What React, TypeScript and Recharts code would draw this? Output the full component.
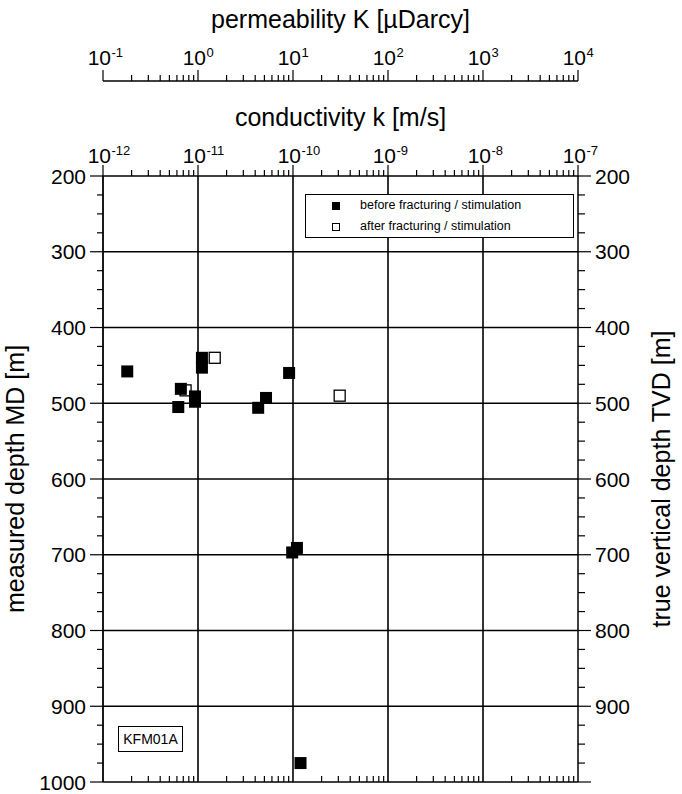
import React from 'react';
import { ScatterChart, Scatter, XAxis, YAxis, ReferenceLine, Legend, Label } from 'recharts';

const FONT = '"Liberation Sans", Arial, Helvetica, sans-serif';

// conductivity k [m/s] and measured depth [m]
const beforeK = [1.8e-12, 1.1e-11, 1.1e-11, 6.6e-12, 6.2e-12, 9.3e-12, 9.3e-12, 4.3e-11, 5.2e-11, 9.1e-11, 9.8e-11, 1.1e-10, 1.2e-10];
const beforeDepth = [458, 440, 453, 481, 505, 491, 498, 506, 493, 460, 697, 691, 975];
const afterK = [1.5e-11, 7.4e-12, 3.1e-10];
const afterDepth = [440, 483, 490];

const kDecades = [1e-12, 1e-11, 1e-10, 1e-9, 1e-8, 1e-7];
const kExponents = ['-12', '-11', '-10', '-9', '-8', '-7'];
const permDecades = [0.1, 1, 10, 100, 1000, 10000];
const permExponents = ['-1', '0', '1', '2', '3', '4'];
const depthLabelsLeft = [200, 300, 400, 500, 600, 700, 800, 900, 1000];
const depthLabelsRight = [200, 300, 400, 500, 600, 700, 800, 900];
const depthGrid = [300, 400, 500, 600, 700, 800, 900];

// K [µDarcy] = k [m/s] * 1e11
const K_FACTOR = 1e11;

const logTicks = (decades: number[]) => {
  const out: number[] = [];
  decades.forEach((d, i) => {
    out.push(d);
    if (i < decades.length - 1) for (let m = 2; m <= 9; m++) out.push(d * m);
  });
  return out;
};
const kTicks = logTicks(kDecades);
const permTicks = logTicks(permDecades);
const depthTicks: number[] = [];
for (let d = 200; d <= 1000; d += 25) depthTicks.push(d);

const beforeData = beforeK.map((k, i) => ({ k, K: k * K_FACTOR, md: beforeDepth[i] }));
const afterData = afterK.map((k, i) => ({ k, K: k * K_FACTOR, md: afterDepth[i] }));

const majorIndex = (v: number, majors: number[]) =>
  majors.findIndex((m) => Math.abs(Math.log10(m) - Math.log10(v)) < 1e-6);

const TopLogTick = ({ x, y, payload, majors, exps, gap }: any) => {
  const idx = majorIndex(payload.value, majors);
  const major = idx >= 0;
  return (
    <g>
      <line x1={x} x2={x} y1={y} y2={y - (major ? 11 : 6)} stroke="#000" strokeWidth={1.2} />
      {major && (
        <text x={x + 8} y={y - gap} textAnchor="end" fontSize={21} fontFamily={FONT} fill="#000">10</text>
      )}
      {major && (
        <text x={x + 8.5} y={y - gap - 8} textAnchor="start" fontSize={13} fontFamily={FONT} fill="#000">{exps[idx]}</text>
      )}
    </g>
  );
};

const BottomTick = ({ x, y, payload }: any) => {
  const major = majorIndex(payload.value, kDecades) >= 0;
  if (major) return <g />;
  return <line x1={x} x2={x} y1={y} y2={y - 6} stroke="#000" strokeWidth={1.2} />;
};

const LeftTick = ({ x, y, payload }: any) => {
  const v = payload.value;
  const major = v % 100 === 0;
  return (
    <g>
      <line x1={x - (major ? 13 : 6)} x2={x} y1={y} y2={y} stroke="#000" strokeWidth={1.2} />
      {major && depthLabelsLeft.includes(v) && (
        <text x={x - 17} y={y} dy="0.36em" textAnchor="end" fontSize={21} fontFamily={FONT} fill="#000">{v}</text>
      )}
    </g>
  );
};

const RightTick = ({ x, y, payload }: any) => {
  const v = payload.value;
  const major = v % 100 === 0;
  return (
    <g>
      <line x1={x} x2={x + (major ? 13 : 7)} y1={y} y2={y} stroke="#000" strokeWidth={1.2} />
      {major && depthLabelsRight.includes(v) && (
        <text x={x + 17} y={y} dy="0.36em" textAnchor="start" fontSize={21} fontFamily={FONT} fill="#000">{v}</text>
      )}
    </g>
  );
};

const FilledSquare = (p: any) => <rect x={p.cx - 6} y={p.cy - 6} width={12} height={12} fill="#000" />;
const HollowSquare = (p: any) => (
  <rect x={p.cx - 5.5} y={p.cy - 5.5} width={11} height={11} fill="#fff" stroke="#000" strokeWidth={1.3} />
);
const NoShape = () => <g />;

const LegendBox = ({ payload }: any) => {
  const items = (payload || []).filter((e: any) => e.type !== 'none');
  return (
    <div style={{ border: '1.3px solid #000', background: '#fff', width: 269, height: 44, boxSizing: 'border-box', fontFamily: FONT, fontSize: 12.5, position: 'relative' }}>
      {items.map((e: any, i: number) => (
        <div key={e.value} style={{ position: 'absolute', left: 0, top: 3 + i * 21, height: 16, display: 'flex', alignItems: 'center' }}>
          <span style={{ position: 'absolute', left: 26, top: 4, width: 8, height: 8, boxSizing: 'border-box', background: i === 0 ? '#000' : '#fff', border: '1px solid #000' }} />
          <span style={{ position: 'absolute', left: 54, top: 0, whiteSpace: 'nowrap', color: '#000' }}>{e.value}</span>
        </div>
      ))}
    </div>
  );
};

const axisTitle = (text: string, dx: number, dy: number, angle: number) => (props: any) => {
  const vb = props.viewBox;
  const cx = vb.x + dx;
  const cy = vb.y + dy;
  return (
    <text x={cx} y={cy} textAnchor="middle" fontSize={25} fontFamily={FONT} fill="#000" transform={angle ? `rotate(${angle}, ${cx}, ${cy})` : undefined}>
      {text}
    </text>
  );
};

export default function App() {
  return (
    <div style={{ position: 'absolute', left: 0, top: 0, width: 682, height: 794, background: '#fff' }}>
      <ScatterChart width={682} height={794} margin={{ top: 5, right: 0, bottom: 0, left: 0 }}>
        <XAxis xAxisId="k" dataKey="k" type="number" scale="log" domain={[1e-12, 1e-7]} allowDataOverflow
          orientation="top" height={95} ticks={kTicks} interval={0} tickSize={0} tickMargin={0} tickLine={false}
          axisLine={{ stroke: '#000', strokeWidth: 1.5 }}
          tick={<TopLogTick majors={kDecades} exps={kExponents} gap={13} />}>
          <Label content={axisTitle('conductivity k [m/s]', 237.5, 45, 0)} />
        </XAxis>
        <XAxis xAxisId="perm" dataKey="K" type="number" scale="log" domain={[0.1, 10000]} allowDataOverflow
          orientation="top" height={76} ticks={permTicks} interval={0} tickSize={0} tickMargin={0} tickLine={false}
          axisLine={{ stroke: '#000', strokeWidth: 1.5 }}
          tick={<TopLogTick majors={permDecades} exps={permExponents} gap={16} />}>
          <Label content={axisTitle('permeability K [µDarcy]', 237.5, 23, 0)} />
        </XAxis>
        <XAxis xAxisId="bottom" dataKey="k" type="number" scale="log" domain={[1e-12, 1e-7]} allowDataOverflow
          orientation="bottom" height={12} ticks={kTicks} interval={0} tickSize={0} tickMargin={0} tickLine={false}
          axisLine={{ stroke: '#000', strokeWidth: 1.5 }} tick={<BottomTick />} />
        <YAxis yAxisId="md" dataKey="md" type="number" domain={[200, 1000]} reversed allowDataOverflow
          width={103} ticks={depthTicks} interval={0} tickSize={0} tickMargin={0} tickLine={false}
          axisLine={{ stroke: '#000', strokeWidth: 1.8 }} tick={<LeftTick />}>
          <Label content={axisTitle('measured depth MD [m]', 24, 303, -90)} />
        </YAxis>
        <YAxis yAxisId="tvd" dataKey="md" type="number" domain={[200, 1000]} reversed allowDataOverflow
          orientation="right" width={104} ticks={depthTicks} interval={0} tickSize={0} tickMargin={0} tickLine={false}
          axisLine={{ stroke: '#000', strokeWidth: 1.5 }} tick={<RightTick />}>
          <Label content={axisTitle('true vertical depth TVD [m]', 92, 303, -90)} />
        </YAxis>

        {kDecades.slice(1, -1).map((v) => (
          <ReferenceLine key={'x' + v} xAxisId="k" yAxisId="md" x={v} stroke="#000" strokeWidth={1.6} />
        ))}
        {depthGrid.map((d) => (
          <ReferenceLine key={'y' + d} xAxisId="k" yAxisId="md" y={d} stroke="#000" strokeWidth={1.6} />
        ))}

        <Scatter name="perm-hidden" data={beforeData} xAxisId="perm" yAxisId="md" shape={NoShape} legendType="none" isAnimationActive={false} />
        <Scatter name="bottom-hidden" data={beforeData} xAxisId="bottom" yAxisId="tvd" shape={NoShape} legendType="none" isAnimationActive={false} />
        <Scatter name="after fracturing / stimulation" data={afterData} xAxisId="k" yAxisId="md" shape={HollowSquare} legendType="square" fill="#fff" isAnimationActive={false} />
        <Scatter name="before fracturing / stimulation" data={beforeData} xAxisId="k" yAxisId="md" shape={FilledSquare} legendType="square" fill="#000" isAnimationActive={false} />

        <Legend layout="horizontal" verticalAlign="middle" align="center"
          itemSorter={(e: any) => (e.value.startsWith('before') ? 0 : 1)}
          wrapperStyle={{ position: 'absolute', left: 305, top: 194, width: 269, height: 44 }}
          content={<LegendBox />} />
      </ScatterChart>
      <div style={{ position: 'absolute', left: 118, top: 726, width: 65, height: 26, border: '1.3px solid #000', boxSizing: 'border-box', fontFamily: FONT, fontSize: 14, display: 'flex', alignItems: 'center', justifyContent: 'center', background: '#fff' }}>
        KFM01A
      </div>
    </div>
  );
}
